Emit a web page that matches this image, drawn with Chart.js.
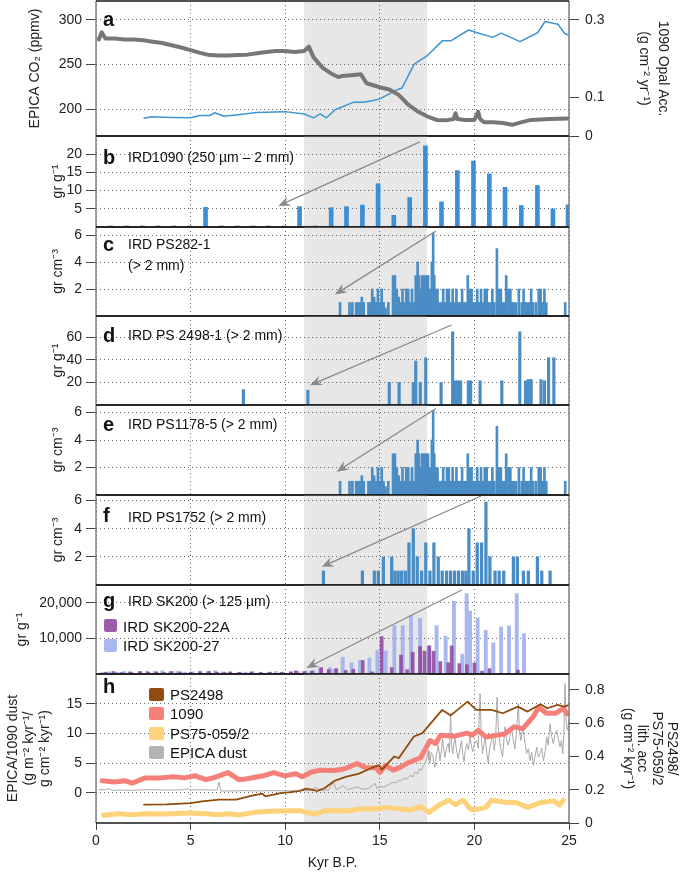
<!DOCTYPE html>
<html>
<head>
<meta charset="utf-8">
<script src="https://cdn.jsdelivr.net/npm/chart.js@4.4.1/dist/chart.umd.min.js"></script>
<style>
  body { margin: 0; background: #fff; width: 687px; height: 878px; position: relative; overflow: hidden;
         font-family: 'Liberation Sans', Arial, Helvetica, sans-serif; }
  canvas { position: absolute; left: 0; }
  .t { position: absolute; font-size: 14px; color: #111; white-space: nowrap; line-height: 1; transform: translateY(-50%); z-index: 5; }
  .let { font-weight: bold; font-size: 20px; }
  .sq { position: absolute; border-radius: 2px; z-index: 5; }
</style>
</head>
<body>

<script>
// --- data ---

const xTicks = [0, 5, 10, 15, 20, 25];

// a) EPICA CO2 (left) and 1090 opal accumulation (right)
const co2Ages = [0.15, 0.3, 0.5, 1.0, 1.5, 2.0, 2.5, 3.0, 3.5, 4.0,
  4.5, 5.0, 5.5, 6.0, 6.5, 7.0, 7.5, 8.0, 8.5, 9.0,
  9.5, 10.0, 10.5, 11.0, 11.25, 11.5, 12.0, 12.5, 12.8, 13.0,
  13.5, 14.0, 14.3, 15.0, 15.5, 16.0, 16.5, 17.0, 17.5, 18.0,
  18.5, 18.9, 19.0, 19.1, 19.5, 20.0, 20.2, 20.3, 20.5, 21.0,
  21.5, 22.0, 22.5, 23.0, 24.0, 25.0];
const co2Vals = [278, 286, 279, 279, 278, 278, 277, 275.5, 274, 271.5,
  269, 266, 263, 260.5, 260, 260, 260.5, 261, 262.5, 264,
  265, 265, 264, 265, 270, 258, 246, 239, 236, 237,
  238, 239, 229, 224.5, 222, 216, 205, 197.5, 192, 188,
  187.5, 189, 195.5, 189, 188, 188, 197, 189, 185.5, 185.5,
  184.5, 182.5, 185.5, 188, 189, 189.5];
const co2Ticks = [200, 250, 300];

const opalAges = [2.54, 2.93, 4.0, 4.99, 5.5, 6.0, 6.28, 6.75, 7.51, 8.5,
  10.0, 11.0, 11.5, 11.85, 12.18, 12.64, 13.59, 14.09, 14.6, 15.0,
  15.5, 15.99, 16.17, 16.82, 17.49, 18.3, 18.76, 19.69, 20.15, 20.96,
  21.42, 22.41, 23.34, 23.73, 24.42, 24.77, 25.0];
const opalVals = [0.046, 0.050, 0.048, 0.047, 0.053, 0.053, 0.060, 0.051, 0.055, 0.061,
  0.063, 0.057, 0.047, 0.057, 0.047, 0.068, 0.087, 0.087, 0.091, 0.096,
  0.109, 0.121, 0.124, 0.186, 0.207, 0.246, 0.246, 0.274, 0.267, 0.255,
  0.266, 0.244, 0.267, 0.296, 0.289, 0.265, 0.26];
const opalTicks = [0, 0.1, 0.3];

// b) IRD1090
const ird1090Ages = [0.78, 1.62, 2.45, 3.29, 4.12, 4.96, 5.79, 6.63, 7.46, 8.30,
  9.13, 9.97, 10.76, 11.60, 12.43, 13.24, 14.08, 14.91, 15.74, 16.58,
  17.41, 18.26, 19.10, 19.95, 20.79, 21.62, 22.48, 23.33, 24.15, 24.95];
const ird1090Vals = [0.3, 0.3, 0.3, 0.3, 0.3, 0.3, 5.4, 0.3, 0.3, 0.3,
  0.3, 0.3, 5.6, 0.3, 5.3, 5.6, 6.0, 11.9, 3.2, 8.1,
  22.3, 6.9, 15.5, 18.1, 14.6, 10.9, 5.9, 11.4, 5.0, 6.1];
const ird1090Ticks = [5, 10, 15, 20];

// c) IRD PS282-1
const ps282Ages = [12.9, 13.4, 13.55, 13.75, 13.85, 13.95, 14.05, 14.15, 14.4, 14.5,
  14.6, 14.7, 14.8, 14.9, 15.0, 15.1, 15.2, 15.3, 15.45, 15.7,
  15.8, 15.9, 16.0, 16.1, 16.2, 16.3, 16.4, 16.5, 16.6, 16.7,
  16.8, 16.9, 17.0, 17.08, 17.15, 17.25, 17.35, 17.45, 17.55, 17.65,
  17.75, 17.82, 17.88, 17.95, 18.05, 18.15, 18.25, 18.35, 18.45, 18.55,
  18.65, 18.75, 18.85, 18.95, 19.05, 19.15, 19.25, 19.35, 19.45, 19.55,
  19.65, 19.75, 19.85, 19.95, 20.05, 20.15, 20.25, 20.35, 20.45, 20.55,
  20.65, 20.75, 20.85, 20.95, 21.05, 21.19, 21.3, 21.4, 21.5, 21.6,
  21.68, 21.8, 21.9, 22.0, 22.1, 22.2, 22.35, 22.5, 22.6, 22.7,
  22.8, 22.9, 23.0, 23.1, 23.25, 23.4, 23.5, 23.6, 23.7, 23.8,
  24.8];
const ps282Vals = [1.0, 1.0, 1.0, 1.0, 1.0, 1.0, 1.4, 1.0, 1.0, 1.0,
  2.0, 1.4, 1.0, 2.0, 1.0, 2.0, 1.0, 0.6, 1.0, 3.0,
  3.0, 2.0, 1.4, 1.0, 2.0, 1.0, 2.0, 2.0, 1.0, 2.0,
  1.0, 3.0, 4.0, 3.0, 2.0, 3.0, 3.0, 3.0, 3.0, 2.0,
  4.0, 6.15, 3.0, 2.0, 2.0, 1.0, 1.0, 2.0, 1.0, 2.0,
  2.0, 1.0, 2.0, 1.0, 2.0, 1.0, 1.0, 2.0, 1.0, 1.0,
  3.0, 2.0, 2.0, 1.0, 1.0, 2.0, 1.0, 2.0, 1.0, 2.0,
  2.0, 1.0, 1.0, 2.0, 1.0, 5.0, 2.0, 2.0, 1.0, 1.0,
  3.0, 2.0, 2.0, 1.0, 1.0, 1.0, 2.0, 1.0, 2.0, 1.0,
  1.0, 1.0, 2.0, 1.0, 1.0, 2.0, 2.0, 1.0, 2.0, 1.0,
  1.0];
const cmTicks = [2, 4, 6];

// d) IRD PS 2498-1
const ps2498IrdAges = [7.79, 11.2, 15.5, 16.02, 16.77, 16.9, 17.14, 17.43, 18.24, 18.85,
  19.0, 19.12, 19.27, 19.68, 19.8, 20.3, 21.45, 22.4, 22.7, 22.85,
  23.0, 23.52, 23.7, 23.92, 24.2];
const ps2498IrdVals = [13.7, 13.1, 20, 20, 20, 39, 20, 42, 20, 65,
  21.5, 21.5, 21.5, 21.5, 21.5, 21.5, 21.5, 65, 21.5, 22.7,
  22.7, 22.5, 21.5, 42, 42];
const ps2498IrdTicks = [20, 40, 60];

// e) IRD PS1178-5 (same record shape as panel c in the figure)
const ps1178Ages = ps282Ages.slice();
const ps1178Vals = ps282Vals.slice();

// f) IRD PS1752
const ps1752Ages = [12.02, 14.08, 14.71, 14.92, 15.19, 15.63, 15.8, 15.97, 16.15, 16.35,
  16.54, 16.77, 16.98, 17.21, 17.43, 17.65, 17.86, 18.09, 18.3, 18.53,
  18.74, 18.95, 19.16, 19.37, 19.55, 19.71, 19.94, 20.15, 20.38, 20.61,
  20.82, 21.09, 21.31, 21.55, 22.06, 22.27, 22.59, 22.85, 23.33, 23.56,
  24.0];
const ps1752Vals = [1, 1, 1, 1, 2, 2, 1, 1, 1, 1,
  3, 4, 2, 1, 3, 1, 3, 2, 1, 1,
  1, 1, 1, 1, 1, 4, 1, 3, 3, 5.9,
  2, 1, 1, 1, 2, 2, 1, 1, 2, 1,
  1];

// g) IRD SK200
const sk22aAges = [0.5, 0.92, 1.35, 1.8, 2.33, 2.77, 3.2, 3.6, 4.0, 4.44,
  5.0, 5.5, 5.98, 6.4, 6.8, 7.1, 7.6, 8.2, 8.7, 9.2,
  9.8, 10.3, 10.56, 11.0, 11.4, 11.9, 12.3, 12.7, 13.2, 13.6,
  14.1, 14.6, 15.1, 15.63, 16.12, 16.45, 16.74, 17.13, 17.36, 17.62,
  17.84, 18.2, 18.62, 18.8, 19.2, 19.6, 20.0, 20.4, 20.8, 22.3];
const sk22aVals = [500, 700, 400, 600, 700, 500, 600, 400, 700, 600,
  500, 600, 700, 500, 400, 600, 500, 600, 400, 500,
  500, 600, 900, 700, 800, 1800, 1200, 1500, 1000, 1300,
  3800, 600, 10500, 1800, 5300, 1200, 6100, 7700, 6400, 7900,
  6400, 3500, 3200, 7900, 2900, 2600, 3100, 800, 1500, 1100];
const sk27Ages = [0.3, 0.7, 1.1, 1.5, 1.9, 2.3, 2.7, 3.1, 3.5, 3.9,
  4.3, 4.7, 5.1, 5.5, 5.9, 6.3, 6.7, 7.1, 7.5, 7.9,
  8.3, 8.7, 9.1, 9.5, 9.9, 10.3, 10.7, 11.1, 11.5, 11.84,
  12.37, 12.6, 13.04, 13.51, 13.95, 14.45, 14.87, 15.31, 15.77, 16.21,
  16.65, 17.13, 17.57, 18.0, 18.48, 18.92, 19.36, 19.59, 19.77, 20.17,
  20.6, 21.0, 21.41, 21.83, 22.24, 22.62];
const sk27Vals = [400, 600, 500, 700, 500, 600, 800, 700, 900, 600,
  700, 500, 600, 800, 700, 900, 600, 500, 400, 500,
  600, 500, 400, 700, 500, 600, 700, 800, 900, 1500,
  1800, 1300, 4700, 3100, 3800, 4500, 6700, 6500, 13600, 13600,
  16400, 15600, 7900, 13600, 10600, 20400, 5600, 22600, 17700, 15800,
  12300, 8800, 13200, 13500, 22600, 11300];
const skTicks = [10000, 20000];

// h) dust and lithogenic accumulation
const ps2498Ages = [2.54, 3.74, 5.0, 5.6, 6.5, 7.4, 8.25, 8.8, 8.95, 9.75,
  10.2, 10.78, 11.1, 11.7, 12.07, 12.6, 13.2, 13.9, 14.5, 14.97,
  15.1, 15.77, 16.0, 16.8, 17.25, 18.3, 18.75, 19.64, 20.1, 20.9,
  21.5, 22.3, 22.8, 23.5, 23.85, 24.4, 24.75, 25.0];
const ps2498Vals = [0.11, 0.112, 0.12, 0.13, 0.14, 0.14, 0.164, 0.176, 0.16, 0.18,
  0.184, 0.193, 0.207, 0.193, 0.209, 0.253, 0.277, 0.297, 0.328, 0.348,
  0.32, 0.40, 0.39, 0.52, 0.54, 0.68, 0.647, 0.73, 0.68, 0.68,
  0.66, 0.70, 0.67, 0.714, 0.69, 0.71, 0.70, 0.71];

const odp1090Ages = [0.32, 0.97, 1.55, 1.9, 2.6, 3.4, 4.1, 4.67, 5.24, 5.82,
  6.28, 6.98, 7.55, 7.9, 8.83, 9.4, 9.98, 10.56, 10.9, 11.4,
  11.85, 12.6, 13.1, 13.8, 14.27, 14.8, 15.0, 15.3, 15.7, 16.1,
  16.46, 17.16, 17.65, 17.96, 18.2, 18.9, 19.6, 19.9, 20.2, 20.6,
  21.2, 21.6, 22.1, 22.55, 23.1, 23.4, 23.8, 24.3, 24.7, 24.9];
const odp1090Vals = [2.0, 1.8, 2.0, 1.6, 2.5, 2.5, 2.7, 2.5, 2.85, 2.2,
  2.6, 3.4, 2.2, 2.3, 2.85, 3.4, 2.85, 3.2, 2.7, 3.5,
  3.8, 3.76, 4.0, 4.9, 4.2, 4.2, 3.4, 4.6, 3.8, 4.3,
  5.0, 5.9, 8.8, 8.3, 9.7, 9.5, 10.05, 9.7, 10.5, 9.4,
  9.7, 9.9, 11.1, 10.8, 12.75, 14.4, 13.4, 13.4, 14.2, 13.3];

const ps75Ages = [0.4, 1.2, 1.9, 2.6, 3.74, 4.9, 5.82, 6.5, 6.98, 7.55,
  8.36, 9.3, 10.2, 10.78, 11.1, 11.6, 12.1, 13.4, 13.9, 14.8,
  15.3, 16.1, 16.6, 17.16, 17.6, 18.2, 18.65, 19.0, 19.4, 19.8,
  20.0, 20.6, 20.9, 21.7, 22.2, 22.8, 23.5, 24.2, 24.5, 24.7];
const ps75Vals = [0.046, 0.056, 0.05, 0.056, 0.054, 0.06, 0.056, 0.05, 0.056, 0.048,
  0.064, 0.07, 0.074, 0.074, 0.064, 0.054, 0.074, 0.074, 0.084, 0.084,
  0.094, 0.084, 0.078, 0.098, 0.064, 0.113, 0.137, 0.11, 0.137, 0.084,
  0.078, 0.094, 0.137, 0.123, 0.123, 0.094, 0.123, 0.133, 0.107, 0.137];

const dustAges = [0.16, 0.5, 0.74, 0.85, 1.3, 1.9, 2.5, 3.05, 3.6, 4.2,
  4.6, 4.9, 5.0, 5.5, 6.0, 6.4, 6.5, 6.6, 7.2, 7.9,
  8.6, 9.3, 10.1, 10.9, 11.3, 11.6, 11.9, 12.3, 12.55, 12.7,
  13.07, 13.3, 13.8, 14.1, 14.4, 14.75, 14.85, 15.0, 15.2, 15.36,
  15.55, 15.7, 15.85, 15.98, 16.1, 16.25, 16.4, 16.6, 16.75, 16.86,
  17.0, 17.1, 17.2, 17.3, 17.44, 17.5, 17.56, 17.6, 17.65, 17.72,
  17.8, 17.86, 17.92, 18.0, 18.1, 18.18, 18.25, 18.32, 18.38, 18.44,
  18.53, 18.62, 18.68, 18.74, 18.8, 18.85, 18.91, 18.97, 19.06, 19.15,
  19.24, 19.32, 19.38, 19.45, 19.52, 19.59, 19.68, 19.77, 19.84, 19.9,
  20.0, 20.12, 20.2, 20.3, 20.37, 20.43, 20.5, 20.57, 20.65, 20.73,
  20.8, 20.9, 20.97, 21.05, 21.12, 21.2, 21.27, 21.35, 21.42, 21.49,
  21.55, 21.62, 21.7, 21.79, 21.88, 21.97, 22.05, 22.14, 22.22, 22.32,
  22.39, 22.46, 22.54, 22.62, 22.69, 22.76, 22.85, 22.94, 23.03, 23.12,
  23.2, 23.3, 23.38, 23.47, 23.56, 23.65, 23.74, 23.82, 23.9, 24.0,
  24.08, 24.17, 24.26, 24.35, 24.44, 24.53, 24.6, 24.67, 24.73, 24.79,
  24.85, 24.92, 25.0];
const dustVals = [0.5, 0.5, 0.7, 0.4, 0.45, 0.4, 0.5, 0.5, 0.45, 0.45,
  0.5, 0.7, 0.45, 0.5, 0.45, 0.45, 1.8, 0.3, 0.3, 0.35,
  0.3, 0.35, 0.3, 0.35, 0.4, 0.9, 0.4, 0.45, 1.8, 0.5,
  1.2, 0.5, 1.0, 0.6, 0.7, 1.6, 0.7, 0.95, 1.0, 1.2,
  1.5, 1.8, 1.6, 2.1, 2.0, 2.4, 2.3, 2.9, 2.7, 3.5,
  3.2, 4.0, 3.8, 4.6, 5.2, 6.0, 7.1, 5.5, 4.9, 6.8,
  6.3, 5.0, 4.3, 6.5, 8.0, 5.4, 7.0, 9.1, 7.2, 6.0,
  7.5, 8.3, 6.8, 13.3, 7.8, 6.6, 8.0, 9.4, 7.0, 5.7,
  7.4, 8.8, 6.5, 5.2, 7.1, 8.3, 7.2, 9.4, 8.0, 6.9,
  8.2, 8.8, 7.5, 16.7, 9.0, 6.6, 8.0, 9.4, 6.8, 5.0,
  7.2, 8.8, 10.0, 7.1, 9.0, 16.1, 10.5, 8.3, 7.0, 6.0,
  8.5, 11.1, 9.0, 8.0, 9.5, 10.8, 9.0, 7.4, 9.8, 15.0,
  10.0, 8.8, 11.0, 9.7, 8.0, 6.6, 7.4, 5.4, 6.8, 4.6,
  6.0, 7.7, 6.0, 6.6, 7.5, 5.4, 7.0, 9.4, 8.0, 11.6,
  9.5, 8.3, 9.8, 10.5, 9.0, 7.7, 8.8, 6.6, 10.0, 18.4,
  12.0, 10.5, 12.2];
const dustTicks = [0, 5, 10, 15];
const lithTicks = [0, 0.2, 0.4, 0.6, 0.8];

// --- layout ---
const W = 687, PLOT_L = 96, PLOT_R = 569, M = 6;
const bandStart = 11, bandEnd = 17.5;
const FONT = "'Liberation Sans', Arial, Helvetica, sans-serif";
const tickFont = { family: FONT, size: 14 };

function pts(xs, ys) {
  return xs.map((x, i) => ({ x: x, y: ys[i] }));
}

function bars(xs, ys, color, thick) {
  return { type: 'bar', data: pts(xs, ys), backgroundColor: color, barThickness: thick,
           grouped: false, borderWidth: 0, yAxisID: 'y' };
}

function line(xs, ys, color, width, axis) {
  return { type: 'line', data: pts(xs, ys), borderColor: color, borderWidth: width, pointRadius: 0,
           fill: false, tension: 0, yAxisID: axis, borderJoinStyle: 'round', borderCapStyle: 'round' };
}

// no label overhang padding: the chart area is fixed by the panel layout
function noPad(s) {
  s.paddingTop = 0; s.paddingBottom = 0; s.paddingLeft = 0; s.paddingRight = 0;
}

function yAxis(o) {
  const right = o.position === 'right';
  return {
    type: 'linear', position: right ? 'right' : 'left', min: o.min, max: o.max,
    afterFit: s => { s.width = right ? W - PLOT_R : PLOT_L; noPad(s); },
    afterBuildTicks: s => { s.ticks = o.ticks.map(v => ({ value: v })); },
    ticks: { font: tickFont, color: '#222', padding: right ? 6 : 4, callback: o.fmt || (v => String(v)) },
    border: { display: false, dash: [1, 3] },
    grid: { drawOnChartArea: !right, color: '#666', lineWidth: 1, borderDash: [1, 3],
            tickBorderDash: [], tickColor: '#444', tickLength: 10, tickWidth: 1 },
    title: { display: true, text: o.title, color: '#222',
             font: { family: FONT, size: 14, lineHeight: o.lh || 1.2 },
             padding: { top: o.tpad, bottom: 0 } }
  };
}

function xAxis(show) {
  return {
    type: 'linear', min: 0, max: 25, offset: false,
    afterFit: s => { s.height = show ? 55 : 0; noPad(s); },
    afterBuildTicks: s => { s.ticks = xTicks.map(v => ({ value: v })); },
    ticks: { display: show, font: tickFont, color: '#222', padding: 3, maxRotation: 0, autoSkip: false },
    border: { display: false, dash: [1, 3] },
    grid: { offset: false, color: '#666', borderDash: [1, 3], drawTicks: show, tickLength: 7,
            tickBorderDash: [], tickColor: '#444' },
    title: { display: show, text: 'Kyr B.P.', color: '#222', font: { family: FONT, size: 14 },
             padding: { top: 0, bottom: 6 } }
  };
}

// gray band, arrow and frame
function panelPlugin(arrow) {
  return {
    id: 'panelDeco',
    beforeDraw(chart) {
      const { ctx, chartArea: a, scales: { x } } = chart;
      const x0 = x.getPixelForValue(bandStart), x1 = x.getPixelForValue(bandEnd);
      ctx.save();
      ctx.fillStyle = '#e7e7e7';
      ctx.fillRect(x0, a.top, x1 - x0, a.bottom - a.top);
      ctx.restore();
    },
    afterDraw(chart) {
      const { ctx, chartArea: a, scales: { x, y } } = chart;
      ctx.save();
      if (arrow) {
        const px0 = x.getPixelForValue(arrow[0]), py0 = y.getPixelForValue(arrow[1]);
        const px1 = x.getPixelForValue(arrow[2]), py1 = y.getPixelForValue(arrow[3]);
        const ang = Math.atan2(py1 - py0, px1 - px0);
        const c = Math.cos(ang), s = Math.sin(ang);
        const L = 12, Wd = 5;
        ctx.strokeStyle = '#8a8a8a';
        ctx.fillStyle = '#8a8a8a';
        ctx.lineWidth = 1.3;
        ctx.beginPath();
        ctx.moveTo(px0, py0);
        ctx.lineTo(px1 - c * L * 0.6, py1 - s * L * 0.6);
        ctx.stroke();
        ctx.beginPath();
        ctx.moveTo(px1, py1);
        ctx.lineTo(px1 - c * L - s * Wd, py1 - s * L + c * Wd);
        ctx.lineTo(px1 - c * L * 0.65, py1 - s * L * 0.65);
        ctx.lineTo(px1 - c * L + s * Wd, py1 - s * L - c * Wd);
        ctx.closePath();
        ctx.fill();
      }
      ctx.lineWidth = 1.5;
      ctx.strokeStyle = '#808080';
      ctx.beginPath();
      ctx.moveTo(a.left, a.top); ctx.lineTo(a.left, a.bottom);
      ctx.moveTo(a.right, a.top); ctx.lineTo(a.right, a.bottom);
      ctx.stroke();
      ctx.lineWidth = 1.4;
      ctx.strokeStyle = '#1a1a1a';
      ctx.beginPath();
      ctx.moveTo(a.left, a.top); ctx.lineTo(a.right, a.top);
      ctx.moveTo(a.left, a.bottom); ctx.lineTo(a.right, a.bottom);
      ctx.stroke();
      ctx.restore();
    }
  };
}

function build(p) {
  const cTop = p.canvasTop !== undefined ? p.canvasTop : p.top - M;
  const cBottom = p.canvasBottom !== undefined ? p.canvasBottom : p.bottom + M;
  const h = cBottom - cTop;
  const cv = document.createElement('canvas');
  cv.width = W; cv.height = h;
  cv.style.top = cTop + 'px';
  cv.style.width = W + 'px'; cv.style.height = h + 'px';
  document.body.appendChild(cv);

  const scales = { x: xAxis(!!p.xLabels), y: p.y };
  if (p.y1) scales.y1 = p.y1;

  new Chart(cv, {
    type: p.type || 'bar',
    data: { datasets: p.datasets },
    options: {
      responsive: false, animation: false, devicePixelRatio: 1,
      layout: { padding: { top: p.top - cTop, bottom: p.xLabels ? 0 : cBottom - p.bottom,
                           left: 0, right: p.y1 ? 0 : W - PLOT_R } },
      plugins: { legend: { display: false }, tooltip: { enabled: false } },
      scales: scales
    },
    plugins: [panelPlugin(p.arrow)]
  });
}

const blue = '#3b8fd5';
const steel = '#4a8cc4';

// a
build({
  top: 1, bottom: 136, canvasTop: 0, type: 'line',
  datasets: [
    line(co2Ages, co2Vals, '#777777', 4, 'y'),
    line(opalAges, opalVals, '#3f94d1', 1.5, 'y1')
  ],
  y: yAxis({ min: 170, max: 321, ticks: co2Ticks, title: 'EPICA CO₂ (ppmv)', tpad: 27 }),
  y1: yAxis({ position: 'right', min: 0, max: 0.349, ticks: opalTicks,
              title: ['1090 Opal Acc.', '(g cm⁻² yr⁻¹)'], tpad: 15, lh: 1.35 })
});

// b
build({
  top: 136, bottom: 227,
  datasets: [bars(ird1090Ages, ird1090Vals, blue, 4)],
  y: yAxis({ min: 0, max: 25, ticks: ird1090Ticks, title: 'gr g⁻¹', tpad: 50 }),
  arrow: [17.12, 23.4, 9.64, 5.8]
});

// c
build({
  top: 227, bottom: 316,
  datasets: [bars(ps282Ages, ps282Vals, steel, 2)],
  y: yAxis({ min: 0, max: 6.6, ticks: cmTicks, title: 'gr cm⁻³', tpad: 50 }),
  arrow: [17.97, 6.3, 12.63, 1.6]
});

// d
build({
  top: 316, bottom: 405,
  datasets: [bars(ps2498IrdAges, ps2498IrdVals, steel, 2.5)],
  y: yAxis({ min: 0, max: 79, ticks: ps2498IrdTicks, title: 'gr g⁻¹', tpad: 50 }),
  arrow: [18.8, 71, 11.31, 17.6]
});

// e
build({
  top: 405, bottom: 495,
  datasets: [bars(ps1178Ages, ps1178Vals, steel, 2)],
  y: yAxis({ min: 0, max: 6.55, ticks: cmTicks, title: 'gr cm⁻³', tpad: 50 }),
  arrow: [17.97, 6.29, 12.72, 1.7]
});

// f
build({
  top: 495, bottom: 585,
  datasets: [bars(ps1752Ages, ps1752Vals, steel, 2.6)],
  y: yAxis({ min: 0, max: 6.4, ticks: cmTicks, title: 'gr cm⁻³', tpad: 50 }),
  arrow: [20.47, 6.4, 11.93, 1.3]
});

// g
build({
  top: 585, bottom: 674,
  datasets: [
    bars(sk22aAges, sk22aVals, 'rgba(140, 66, 158, 0.85)', 3),
    bars(sk27Ages, sk27Vals, 'rgba(160, 176, 236, 0.9)', 3.2)
  ],
  y: yAxis({ min: 0, max: 25000, ticks: skTicks, title: 'gr g⁻¹', tpad: 14,
             fmt: v => v.toLocaleString('en-US') }),
  arrow: [19.33, 23600, 11.13, 1700]
});

// h
build({
  top: 674, bottom: 823, canvasBottom: 878, xLabels: true, type: 'line',
  datasets: [
    line(ps2498Ages, ps2498Vals, '#8f4c0e', 1.8, 'y1'),
    line(odp1090Ages, odp1090Vals, '#f5807a', 5, 'y'),
    line(ps75Ages, ps75Vals, '#fdd27a', 5, 'y1'),
    line(dustAges, dustVals, '#a8a8a8', 1, 'y')
  ],
  y: yAxis({ min: -5.1, max: 20, ticks: dustTicks,
             title: ['EPICA/1090 dust', '(g m⁻² kyr⁻¹/', 'g cm⁻² kyr⁻¹)'], tpad: 5, lh: 1.15 }),
  y1: yAxis({ position: 'right', min: 0, max: 0.896, ticks: lithTicks,
              title: ['PS2498/', 'PS75-059/2', 'lith. acc', '(g cm⁻² kyr⁻¹)'], tpad: 8, lh: 1.05 })
});
</script>

<div class="t let" style="left:103px;top:19px">a</div>
<div class="t let" style="left:103px;top:157px">b</div>
<div class="t" style="left:128px;top:157px">IRD1090 (250 µm – 2 mm)</div>
<div class="t let" style="left:103px;top:244px">c</div>
<div class="t" style="left:128px;top:244px">IRD PS282-1</div>
<div class="t" style="left:128px;top:265px">(&gt; 2 mm)</div>
<div class="t let" style="left:103px;top:335px">d</div>
<div class="t" style="left:128px;top:335px">IRD PS 2498-1 (&gt; 2 mm)</div>
<div class="t let" style="left:103px;top:424px">e</div>
<div class="t" style="left:128px;top:424px">IRD PS1178-5 (&gt; 2 mm)</div>
<div class="t let" style="left:103px;top:515px">f</div>
<div class="t" style="left:128px;top:517px">IRD PS1752 (&gt; 2 mm)</div>
<div class="t let" style="left:103px;top:600px">g</div>
<div class="t" style="left:128px;top:601px">IRD SK200 (&gt; 125 µm)</div>
<div class="sq" style="left:104px;top:619px;width:13px;height:13px;background:rgba(140,66,158,0.85)"></div>
<div class="t" style="left:123px;top:626px;font-size:15px">IRD SK200-22A</div>
<div class="sq" style="left:104px;top:639px;width:13px;height:13px;background:rgba(160,176,236,0.9)"></div>
<div class="t" style="left:123px;top:645px;font-size:15px">IRD SK200-27</div>
<div class="t let" style="left:103px;top:686px">h</div>
<div class="sq" style="left:149px;top:688px;width:15px;height:13px;background:#8f4c0e"></div>
<div class="t" style="left:170px;top:694px;font-size:15px">PS2498</div>
<div class="sq" style="left:149px;top:707px;width:15px;height:13px;background:#f5807a"></div>
<div class="t" style="left:170px;top:713px;font-size:15px">1090</div>
<div class="sq" style="left:149px;top:727px;width:15px;height:13px;background:#fdd27a"></div>
<div class="t" style="left:170px;top:733px;font-size:15px">PS75-059/2</div>
<div class="sq" style="left:149px;top:746px;width:15px;height:13px;background:#b3b3b3"></div>
<div class="t" style="left:170px;top:752px;font-size:15px">EPICA dust</div>

</body>
</html>
